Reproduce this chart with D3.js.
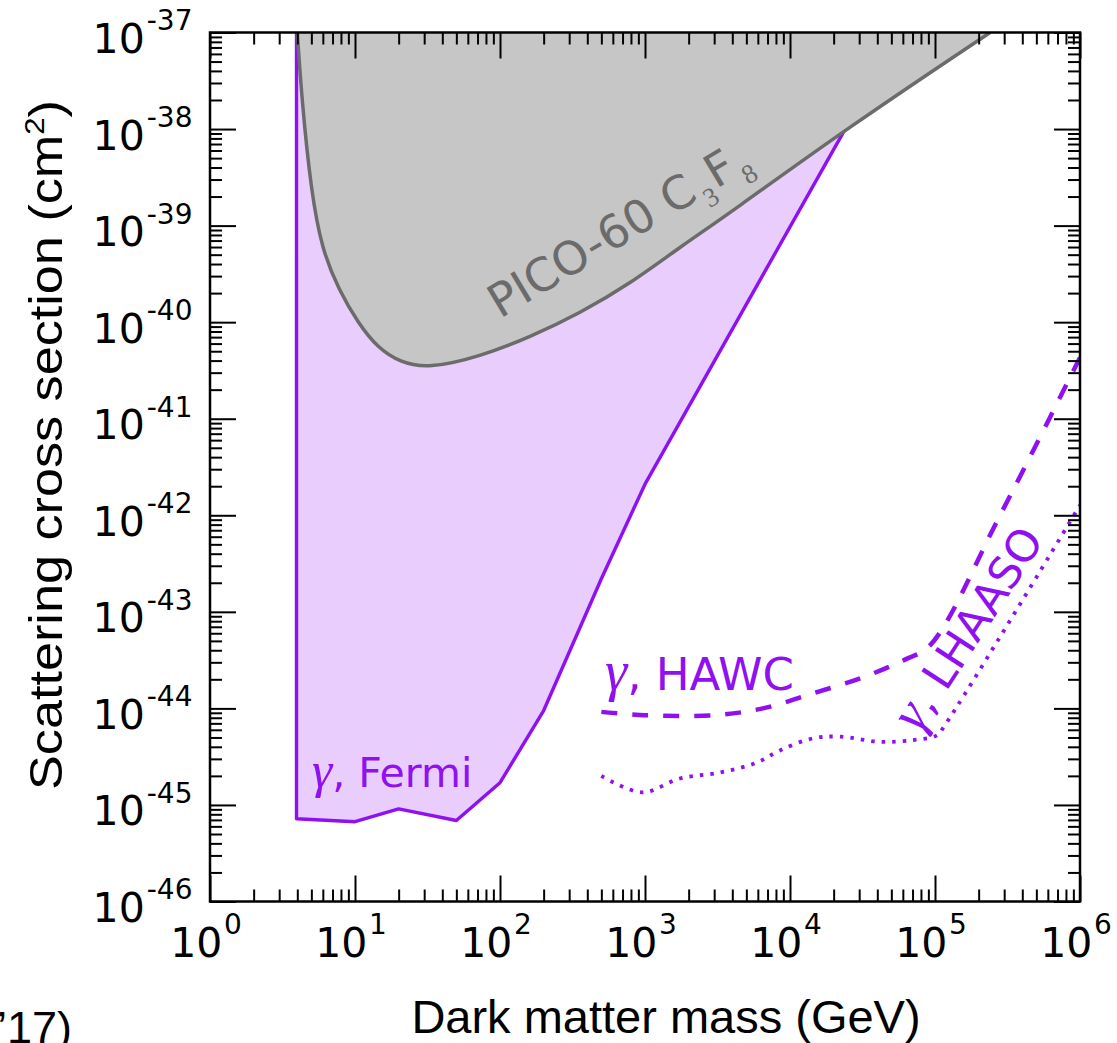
<!DOCTYPE html>
<html>
<head>
<meta charset="utf-8">
<script src="https://cdn.jsdelivr.net/npm/d3@7"></script>
<style>
  html, body { margin: 0; padding: 0; background: #ffffff; }
  svg { display: block; }
</style>
</head>
<body>
<svg id="chart" width="1117" height="1043"></svg>
<script>
// ---------------- DATA ----------------
// Dark matter mass (GeV) and scattering cross section (cm^2)
const xDecades = [0, 1, 2, 3, 4, 5, 6];                              // x tick exponents (10^n GeV)
const yDecades = [-46, -45, -44, -43, -42, -41, -40, -39, -38, -37]; // y tick exponents

// gamma-ray (Fermi) excluded region boundary
const fermiMass  = [3.95, 3.95, 10, 20, 50, 100, 200, 500, 1000, 24000, 56000];
const fermiSigma = [1e-37, 7.2e-46, 6.7e-46, 9.1e-46, 6.9e-46, 1.7e-45, 9.5e-45, 2.2e-43, 2.1e-42, 1.0e-38, 1e-37];

// PICO-60 C3F8 excluded region boundary
const picoMass  = [4.0, 4.3, 4.97, 5.92, 7.76, 10.5, 14.4, 20.4, 31.9, 72.8, 161, 356, 788, 1743, 3855, 24700, 240000];
const picoSigma = [1e-37, 2.0e-38, 2.33e-39, 5.57e-40, 2.15e-40, 9.8e-41, 5.38e-41, 3.85e-41, 3.3e-41, 4.4e-41, 7.0e-41, 1.24e-40, 2.5e-40, 6.0e-40, 1.35e-39, 1.02e-38, 1e-37];

// gamma, HAWC (dashed)
const hawcMass  = [500, 1000, 3000, 6500, 14400, 31900, 62000, 92400, 281000, 1000000];
const hawcSigma = [9.2e-45, 8.5e-45, 8.5e-45, 1.0e-44, 1.43e-44, 2.1e-44, 3.2e-44, 4.5e-44, 1.0e-42, 4.3e-41];

// gamma, LHAASO (dotted)
const lhaasoMass  = [500, 953, 1743, 3290, 5920, 8530, 14400, 22000, 42000, 70500, 103000, 117000, 1000000];
const lhaasoSigma = [2.0e-45, 1.35e-45, 1.88e-45, 2.17e-45, 2.75e-45, 3.67e-45, 4.9e-45, 5.1e-45, 4.5e-45, 4.7e-45, 5.25e-45, 6.7e-45, 1.27e-42];

// ---------------- LAYOUT ----------------
const L = 210, R = 1080, T = 32.5, B = 901.5;
const purple = "#8f10f0";
const lavender = "#e9cdfc";
const grayFill = "#c6c6c6";
const grayLine = "#6b6b6b";

const svg = d3.select("#chart");
const x = d3.scaleLog().domain([1, 1e6]).range([L, R]);
const y = d3.scaleLog().domain([1e-46, 1e-37]).range([B, T]);

svg.append("defs").append("clipPath").attr("id", "plotclip")
  .append("rect").attr("x", L).attr("y", T).attr("width", R - L).attr("height", B - T);

const plot = svg.append("g").attr("clip-path", "url(#plotclip)");

const zip = (ms, ss) => ms.map((m, i) => [m, ss[i]]);
const lineLin = d3.line().x(d => x(d[0])).y(d => y(d[1])).curve(d3.curveLinear);
const lineSmooth = d3.line().x(d => x(d[0])).y(d => y(d[1])).curve(d3.curveCatmullRom.alpha(0.5));
const lineBasis = d3.line().x(d => x(d[0])).y(d => y(d[1])).curve(d3.curveBasis);

// Fermi region
const fermi = zip(fermiMass, fermiSigma);
plot.append("path").attr("d", lineLin(fermi) + "Z").attr("fill", lavender).attr("stroke", "none");
plot.append("path").attr("d", lineLin(fermi)).attr("fill", "none")
  .attr("stroke", purple).attr("stroke-width", 3.4).attr("stroke-linejoin", "round");

// PICO region
const pico = zip(picoMass, picoSigma);
plot.append("path").attr("d", lineBasis(pico) + "Z").attr("fill", grayFill).attr("stroke", "none");
plot.append("path").attr("d", lineBasis(pico)).attr("fill", "none")
  .attr("stroke", grayLine).attr("stroke-width", 3.5);

// HAWC dashed
plot.append("path").attr("d", lineSmooth(zip(hawcMass, hawcSigma))).attr("fill", "none")
  .attr("stroke", purple).attr("stroke-width", 4.5).attr("stroke-dasharray", "16,15");

// LHAASO dotted
plot.append("path").attr("d", lineSmooth(zip(lhaasoMass, lhaasoSigma))).attr("fill", "none")
  .attr("stroke", purple).attr("stroke-width", 3.8).attr("stroke-dasharray", "3.5,7");

// ---------------- AXES ----------------
const xMajor = xDecades.map(e => Math.pow(10, e));
const yMajor = yDecades.map(e => Math.pow(10, e));
const isMajor = v => Math.abs(Math.log10(v) - Math.round(Math.log10(v))) < 1e-9;
const xMinor = x.ticks().filter(v => !isMajor(v));
const yMinor = y.ticks().filter(v => !isMajor(v));

function styleAxis(g) {
  g.select(".domain").remove();
  g.selectAll(".tick line").attr("stroke", "#000").attr("stroke-width", 2);
  g.selectAll(".tick text").remove();
}
const axes = svg.append("g");
[[xMinor, 12], [xMajor, 26]].forEach(([vals, len]) => {
  axes.append("g").attr("transform", `translate(0,${B})`)
    .call(d3.axisBottom(x).tickValues(vals).tickSize(-len).tickFormat("")).call(styleAxis);
  axes.append("g").attr("transform", `translate(0,${T})`)
    .call(d3.axisTop(x).tickValues(vals).tickSize(-len).tickFormat("")).call(styleAxis);
});
[[yMinor, 12], [yMajor, 26]].forEach(([vals, len]) => {
  axes.append("g").attr("transform", `translate(${L},0)`)
    .call(d3.axisLeft(y).tickValues(vals).tickSize(-len).tickFormat("")).call(styleAxis);
  axes.append("g").attr("transform", `translate(${R},0)`)
    .call(d3.axisRight(y).tickValues(vals).tickSize(-len).tickFormat("")).call(styleAxis);
});
svg.append("rect").attr("x", L).attr("y", T).attr("width", R - L).attr("height", B - T)
  .attr("fill", "none").attr("stroke", "#000").attr("stroke-width", 2.5);

// tick labels
const tickFont = "'DejaVu Sans', sans-serif";
xDecades.forEach(e => {
  const t = svg.append("text").attr("x", x(Math.pow(10, e)) - 4).attr("y", 957)
    .attr("text-anchor", "middle").attr("font-family", tickFont).attr("fill", "#000");
  t.append("tspan").attr("font-size", 41).text("10");
  t.append("tspan").attr("font-size", 28).attr("dx", 1.5).attr("dy", -23.5).text(String(e));
});
yDecades.forEach(e => {
  const t = svg.append("text").attr("x", 192.5).attr("y", y(Math.pow(10, e)) + 20.5)
    .attr("text-anchor", "end").attr("font-family", tickFont).attr("fill", "#000");
  t.append("tspan").attr("font-size", 41).text("10");
  t.append("tspan").attr("font-size", 28).attr("dx", 2).attr("dy", -22.6).text(String(e));
});

// axis titles
const titleFont = "'Liberation Sans', Arial, sans-serif";
svg.append("text").attr("x", 666).attr("y", 1033).attr("text-anchor", "middle")
  .attr("font-family", titleFont).attr("font-size", 47).attr("fill", "#000")
  .text("Dark matter mass (GeV)");
const yt = svg.append("text").attr("transform", "translate(62,445) rotate(-90)")
  .attr("text-anchor", "middle").attr("font-family", titleFont).attr("font-size", 47).attr("fill", "#000")
  .attr("textLength", 690).attr("lengthAdjust", "spacingAndGlyphs");
yt.append("tspan").text("Scattering cross section (cm");
yt.append("tspan").attr("font-size", 28).attr("dy", -18).text("2");
yt.append("tspan").attr("dy", 18).text(")");

// cut-off citation fragment at bottom-left (cropped in the original figure)
svg.append("text").attr("x", 72).attr("y", 1043).attr("text-anchor", "end")
  .attr("font-family", titleFont).attr("font-size", 45).attr("fill", "#000").text("\u201917)");

// ---------------- CURVE LABELS ----------------
const labFont = "'DejaVu Sans', sans-serif";
const gFont = "'Liberation Serif', 'DejaVu Serif', serif";
function gammaLabel(txt, xx, yy, size, angle) {
  const t = svg.append("text").attr("transform", `translate(${xx},${yy}) rotate(${angle})`)
    .attr("font-family", labFont).attr("font-size", size).attr("fill", purple);
  t.append("tspan").attr("font-family", gFont).attr("font-style", "italic").attr("font-size", size * 1.25).text("\u03b3");
  t.append("tspan").text(", " + txt);
  return t;
}
gammaLabel("Fermi", 312, 787, 41, 0);
gammaLabel("HAWC", 605, 690, 45, 0);
gammaLabel("LHAASO", 919, 734, 44, -57);

const pl = svg.append("text").attr("transform", "translate(500,319) rotate(-31)")
  .attr("font-family", labFont).attr("font-size", 46).attr("fill", grayLine);
pl.append("tspan").text("PICO-60 C");
pl.append("tspan").attr("font-family", gFont).attr("font-size", 27).attr("dx", 4).attr("dy", 13).text("3");
pl.append("tspan").attr("dx", 2).attr("dy", -13).text("F");
pl.append("tspan").attr("font-family", gFont).attr("font-size", 27).attr("dx", 3).attr("dy", 13).text("8");
</script>
</body>
</html>
